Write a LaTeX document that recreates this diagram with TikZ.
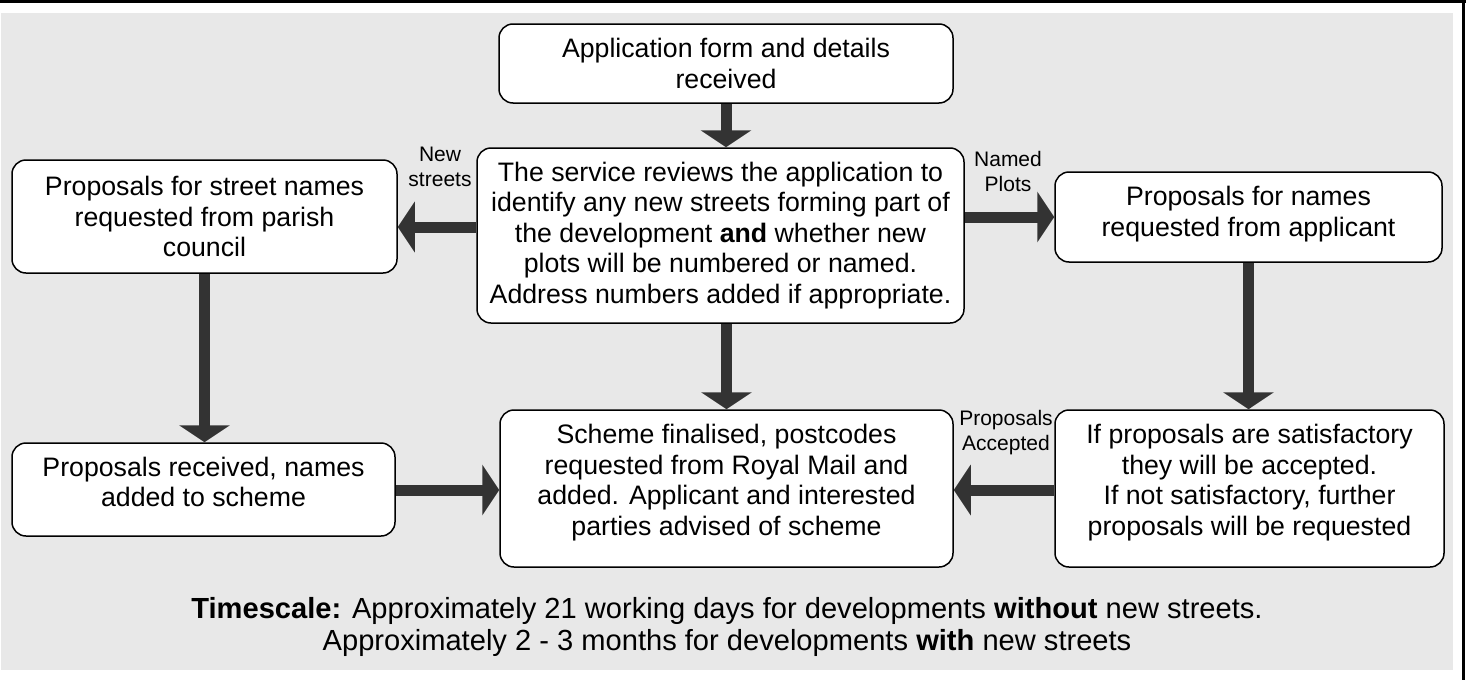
\documentclass[tikz,border=0pt]{standalone}
\usepackage{fontspec}
\setmainfont{Liberation Sans}
\usetikzlibrary{arrows.meta}
\definecolor{bg}{HTML}{E8E8E8}
\definecolor{arr}{HTML}{333333}
\tikzset{
  box/.style={draw=black, line width=1.5pt, fill=white, rounded corners=14pt, align=center,
    font=\fontsize{26.7}{30.5}\selectfont, inner sep=0pt},
  bigarrow/.style={draw=arr, line width=11pt, -{Triangle[length=17pt,width=50pt]}},
  lab/.style={font=\fontsize{21}{25}\selectfont, align=center, inner sep=0pt},
  note/.style={font=\fontsize{29.1}{32}\selectfont, align=center, inner sep=0pt},
}
\begin{document}
\begin{tikzpicture}[x=1pt,y=-1pt]
\useasboundingbox (0,0) rectangle (1466,680);
\fill[white] (0,0) rectangle (1466,680);
\fill[bg] (1,13) rectangle (1453,670);
\fill[black] (0,0) rectangle (1466,3);
\fill[black] (1462,0) rectangle (1465,680);

\node[box, minimum width=454pt, minimum height=79pt] (top) at (726,63.5)
  {Application form and details\\received};
\node[box, minimum width=487pt, minimum height=175pt] (mid) at (720.5,235.5)
  {The service reviews the application to\\identify any new streets forming part of\\the development \textbf{and} whether new\\plots will be numbered or named.\\Address numbers added if appropriate.};
\node[box, minimum width=385pt, minimum height=113pt] (lt) at (204.5,216.5)
  {Proposals for street names\\requested from parish\\council};
\node[box, minimum width=387pt, minimum height=90pt, text depth=11pt] (rt) at (1248.5,217)
  {Proposals for names\\requested from applicant};
\node[box, minimum width=383pt, minimum height=93pt, text depth=15pt] (lb) at (203.5,489.5)
  {Proposals received, names\\added to scheme};
\node[box, minimum width=453pt, minimum height=157pt, text depth=17.6pt] (mb) at (726.5,488.5)
  {Scheme finalised, postcodes\\requested from Royal Mail and\\added. Applicant and interested\\parties advised of scheme};
\node[box, minimum width=389pt, minimum height=157pt, text depth=17.6pt] (rb) at (1249.5,488.5)
  {If proposals are satisfactory\\they will be accepted.\\If not satisfactory, further\\proposals will be requested};

\coordinate (yl) at (0,227);
\coordinate (yb) at (0,490);
\draw[bigarrow] (top.south) -- (top.south |- mid.north);
\draw[bigarrow] (mid.south -| mb.north) -- (mb.north);
\draw[bigarrow] (mid.west |- yl) -- (lt.east |- yl);
\draw[bigarrow] (mid.east |- rt.west) -- (rt.west);
\draw[bigarrow] (lt.south) -- (lt.south |- lb.north);
\draw[bigarrow] (rt.south) -- (rt.south |- rb.north);
\draw[bigarrow] (lb.east |- yb) -- (mb.west |- yb);
\draw[bigarrow] (rb.west |- yb) -- (mb.east |- yb);

\node[lab] (l1) at (440,167) {New\\streets};
\node[lab] (l2) at (1008,171) {Named\\Plots};
\node[lab] (l3) at (1006,433) {Proposals\\Accepted};

\node[note] (ts) at (727,626.5)
  {\textbf{Timescale:} Approximately 21 working days for developments \textbf{without} new streets.\\Approximately 2 - 3 months for developments \textbf{with} new streets};
\end{tikzpicture}
\end{document}
